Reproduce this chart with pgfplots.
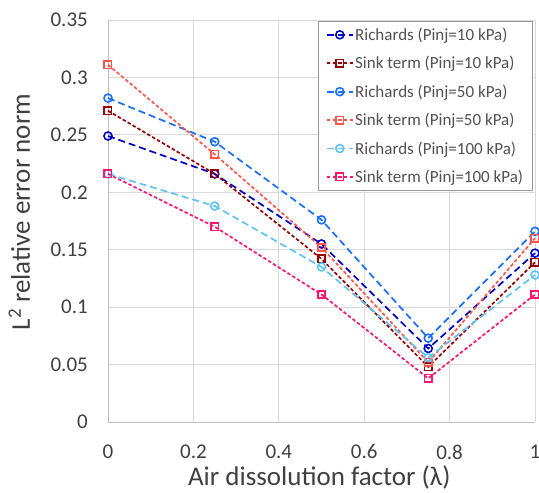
\documentclass[border=0pt]{standalone}
\usepackage{pgfplots}
\pgfplotsset{compat=1.18}
\usepackage{fontspec}
\setmainfont{Carlito}
\definecolor{rten}{RGB}{0,0,200}
\definecolor{sten}{RGB}{150,0,0}
\definecolor{rfifty}{RGB}{25,110,255}
\definecolor{sfifty}{RGB}{255,85,75}
\definecolor{rhund}{RGB}{95,195,250}
\definecolor{shund}{RGB}{255,20,110}
\definecolor{gridc}{RGB}{217,217,217}
\definecolor{axc}{RGB}{191,191,191}
\definecolor{txt}{RGB}{64,64,64}
\begin{document}
\begin{tikzpicture}
\begin{axis}[
  width=427pt, height=402pt, scale only axis,
  xmin=0, xmax=1, ymin=0, ymax=0.35,
  xtick={0,0.2,0.4,0.6,0.8,1},
  xticklabels={0,0.2,0.4,0.6,0.8,1},
  ytick={0,0.05,0.1,0.15,0.2,0.25,0.3,0.35},
  yticklabels={0,0.05,0.1,0.15,0.2,0.25,0.3,0.35},
  grid=major, major grid style={draw=gridc, line width=0.9pt},
  axis lines*=left, axis line style={draw=axc, line width=0.9pt},
  major tick length=0pt,
  tick label style={font=\fontsize{21}{24}\selectfont, text=txt},
  yticklabel style={anchor=east, inner sep=0pt, xshift=-20pt},
  xticklabel style={anchor=north, inner sep=0pt},
  xticklabel shift=22.5pt,
  /pgf/number format/assume math mode=true,
  xlabel={Air dissolution factor (λ)},
  ylabel={L\textsuperscript{2} relative error norm},
  label style={font=\fontsize{27}{30}\selectfont, text=txt, inner sep=0pt},
  xlabel style={at={(axis description cs:0.495,-0.1575)}, anchor=base},
  ylabel style={at={(axis description cs:-0.1827,0.522)}, anchor=base},
  legend style={at={(rel axis cs:0.9953,0.9975)}, anchor=north east, draw=gray!80, line width=0.7pt,
    font=\fontsize{17}{20}\selectfont, text=black!68, row sep=11.5pt, inner xsep=8pt, inner ysep=5pt,
    nodes={inner sep=1.5pt}},
  legend cell align=left,
  legend image code/.code={\draw[#1] (0pt,0pt) -- (26pt,0pt); \draw[#1, mark repeat=2, mark phase=2] plot coordinates {(0pt,0pt) (13pt,0pt) (26pt,0pt)};},
  every axis plot/.append style={line width=1.7pt},
  clip=false,
]
\addplot[rten, dash pattern=on 7pt off 4pt, mark=o, mark size=4pt, mark options={solid, line width=1.6pt}]
  coordinates {(0,0.249) (0.25,0.216) (0.5,0.155) (0.75,0.064) (1,0.147)};
\addlegendentry{Richards (Pinj=10 kPa)}
\addplot[sten, dash pattern=on 3.5pt off 2.2pt, mark=square, mark size=3.7pt, mark options={solid, line width=1.6pt}]
  coordinates {(0,0.271) (0.25,0.216) (0.5,0.142) (0.75,0.048) (1,0.139)};
\addlegendentry{Sink term (Pinj=10 kPa)}
\addplot[rfifty, dash pattern=on 7pt off 4pt, mark=o, mark size=4pt, mark options={solid, line width=1.6pt}]
  coordinates {(0,0.282) (0.25,0.244) (0.5,0.176) (0.75,0.073) (1,0.166)};
\addlegendentry{Richards (Pinj=50 kPa)}
\addplot[sfifty, dash pattern=on 3.5pt off 2.2pt, mark=square, mark size=3.7pt, mark options={solid, line width=1.6pt}]
  coordinates {(0,0.311) (0.25,0.233) (0.5,0.152) (0.75,0.052) (1,0.160)};
\addlegendentry{Sink term (Pinj=50 kPa)}
\addplot[rhund, dash pattern=on 7pt off 4pt, mark=o, mark size=4pt, mark options={solid, line width=1.6pt}]
  coordinates {(0,0.216) (0.25,0.188) (0.5,0.135) (0.75,0.056) (1,0.128)};
\addlegendentry{Richards (Pinj=100 kPa)}
\addplot[shund, dash pattern=on 3.5pt off 2.2pt, mark=square, mark size=3.7pt, mark options={solid, line width=1.6pt}]
  coordinates {(0,0.216) (0.25,0.170) (0.5,0.111) (0.75,0.038) (1,0.111)};
\addlegendentry{Sink term (Pinj=100 kPa)}
\end{axis}
\pgfresetboundingbox
\path ([xshift=-108pt,yshift=-71pt]current axis.south west) rectangle ([xshift=4pt,yshift=20pt]current axis.north east);
\end{tikzpicture}
\end{document}
